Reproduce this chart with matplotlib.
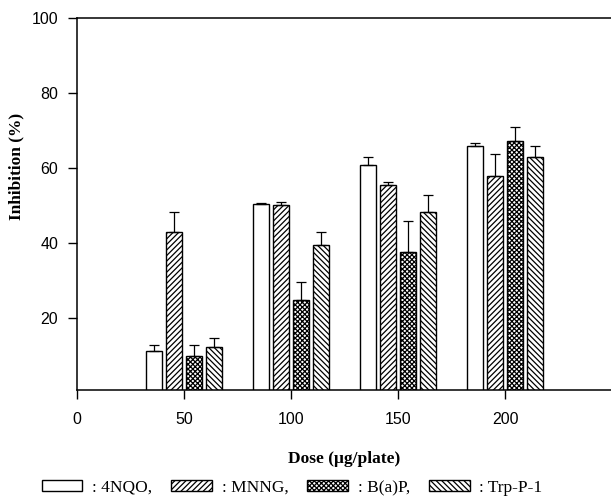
import matplotlib.pyplot as plt
import matplotlib.patches as mpatches
import numpy as np

plt.rcParams['hatch.linewidth'] = 0.9

doses = [50, 100, 150, 200]
series = ['4NQO', 'MNNG', 'B(a)P', 'Trp-P-1']
vals_4nqo = [11.1, 50.3, 60.8, 65.7]
err_4nqo = [1.8, 0.3, 2.1, 1.0]
vals_mnng = [42.8, 50.0, 55.4, 57.9]
err_mnng = [5.3, 0.8, 0.9, 5.7]
vals_bap = [9.9, 24.7, 37.5, 67.0]
err_bap = [2.8, 5.0, 8.2, 3.9]
vals_trp = [12.2, 39.4, 48.3, 62.8]
err_trp = [2.6, 3.5, 4.4, 3.1]

values = [vals_4nqo, vals_mnng, vals_bap, vals_trp]
errors = [err_4nqo, err_mnng, err_bap, err_trp]
offsets = [-14.1, -4.7, 4.6, 14.0]
hatches = [None, '//////', 'xxxxxxx', '\\\\\\\\\\\\']

fig = plt.figure(figsize=(6.11, 5.0), dpi=100)
ax = fig.add_axes([0.126, 0.22, 0.874, 0.745])

x = np.array(doses)
for i in range(len(series)):
    ax.bar(x + offsets[i], values[i], width=7.2, bottom=0, color='white',
           edgecolor='black', linewidth=1.0, hatch=hatches[i], zorder=2)
    ax.errorbar(x + offsets[i], values[i], yerr=[np.zeros(4), errors[i]],
                fmt='none', ecolor='black', elinewidth=0.9, capsize=3.5,
                capthick=0.9, zorder=3)

ax.set_xlim(0, 249.5)
ax.set_ylim(0.83, 100)
ax.set_xticks([0, 50, 100, 150, 200])
ax.set_yticks([20, 40, 60, 80, 100])
ax.tick_params(direction='out', length=6.5, width=1, labelsize=11.5)
ax.tick_params(axis='x', pad=9.5)
ax.tick_params(axis='y', pad=7)
for lab in ax.get_xticklabels() + ax.get_yticklabels():
    lab.set_family('Liberation Sans')
ax.spines['right'].set_visible(False)
for s in ['left', 'bottom', 'top']:
    ax.spines[s].set_linewidth(1.1)

ax.set_ylabel('Inhibition (%)', family='Liberation Serif', fontweight='bold', fontsize=12.5)
ax.yaxis.set_label_coords(-0.098, 0.6)
ax.set_xlabel('Dose (\u03bcg/plate)', family='Liberation Serif', fontweight='bold', fontsize=12.5)
ax.xaxis.set_label_coords(0.5, -0.165)

handles = [mpatches.Patch(facecolor='white', edgecolor='black', hatch=hatches[i],
                          label=': ' + series[i] + (',' if i < 3 else ''))
           for i in range(len(series))]
fig.legend(handles=handles, loc='center', bbox_to_anchor=(0.478, 0.024), ncol=4,
           frameon=False, prop={'family': 'Liberation Serif', 'size': 12.5},
           handlelength=2.35, handleheight=0.6, handletextpad=0.55, columnspacing=1.1,
           borderpad=0)

fig.savefig('out.png', dpi=100)
